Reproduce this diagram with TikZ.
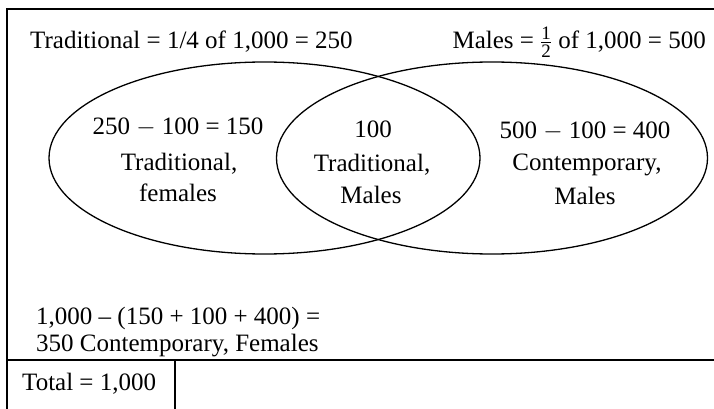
\documentclass[tikz,border=0pt]{standalone}
\usepackage{amsmath}
\usepackage{fontspec}
\setmainfont{Liberation Serif}
\usetikzlibrary{shapes.geometric}
\newcommand{\fracdigit}[1]{\hbox{\fontsize{19}{19}\selectfont #1}}
\newcommand{\onehalf}{\(\genfrac{}{}{1.4pt}{1}{\fracdigit{1}}{\fracdigit{2}}\)}
\newcommand{\longminus}{\(\mathord{-}\)}
\begin{document}
\begin{tikzpicture}[x=1pt,y=-1pt,
  frame/.style={line width=1.6pt, line cap=rect},
  setring/.style={draw, ellipse, line width=1.3pt, inner sep=0pt,
    minimum width=431pt, minimum height=192pt},
  txt/.style={font=\fontsize{25}{30}\selectfont, inner sep=0pt},
  ctr/.style={txt, anchor=base},
  lft/.style={txt, anchor=base west},
  rgt/.style={txt, anchor=base east}]
\useasboundingbox (0,0) rectangle (714,409);

% table frame: open on the right, with a small cell for the total
\draw[frame] (7,409) -- (7,9) -- (714,9);
\draw[frame] (7,360) -- (714,360);
\draw[frame] (175,360) -- (175,409);

% the two sets
\node[setring] (trad) at (264.5,158) {};
\node[setring] (male) at (492,158) {};

% headings
\node[lft] (tradhead) at (30,49) {Traditional = 1/4 of 1,000 = 250};
\node[rgt] (malehead) at (706,49) {Males = \onehalf\ of 1,000 = 500};

% traditional only
\node[ctr] (tf1) at (178,135) {250 \longminus\ 100 = 150};
\node[ctr] (tf2) at (179,170) {Traditional,};
\node[ctr] (tf3) at (178,201) {females};

% overlap
\node[ctr] (tm1) at (373,137) {100};
\node[ctr] (tm2) at (372,171) {Traditional,};
\node[ctr] (tm3) at (371,203) {Males};

% males only
\node[ctr] (cm1) at (585,138) {500 \longminus\ 100 = 400};
\node[ctr] (cm2) at (587,170) {Contemporary,};
\node[ctr] (cm3) at (585,204) {Males};

% outside both sets
\node[lft] (cf1) at (36,324) {1,000 – (150 + 100 + 400) =};
\node[lft] (cf2) at (36,351) {350 Contemporary, Females};

% total cell
\node[lft] (total) at (22,390) {Total = 1,000};
\end{tikzpicture}
\end{document}
